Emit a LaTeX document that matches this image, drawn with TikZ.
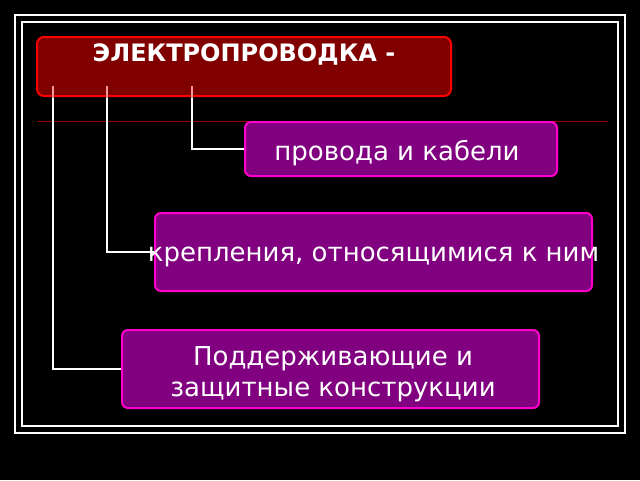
\documentclass[tikz,border=0pt]{standalone}
\usepackage{fontspec}
\setmainfont{DejaVu Sans}
\usetikzlibrary{positioning}
\definecolor{hdrfill}{HTML}{800000}
\definecolor{boxfill}{HTML}{800080}
\definecolor{boxline}{HTML}{FF00CC}
\tikzset{
  box/.style={draw=boxline, line width=2pt, fill=boxfill, rounded corners=6pt, inner sep=0pt},
  label/.style={text=white, font=\fontsize{26}{31}\selectfont, align=center, inner sep=0pt},
  link/.style={draw=white, line width=2.5pt}
}
\begin{document}
\begin{tikzpicture}[x=1pt,y=-1pt]
  \fill[black] (0,0) rectangle (640,480);
  \useasboundingbox (0,0) rectangle (640,480);
  \draw[white, line width=2.5pt] (15,15) rectangle (625,433);
  \draw[white, line width=1.2pt] (22,22) rectangle (618,426);
  \draw[hdrfill!80!red, line width=0.8pt] (37,121) -- (608,121);
  % header
  \node[draw=red, line width=2pt, fill=hdrfill, rounded corners=7pt, minimum width=414pt, minimum height=59pt, inner sep=0pt] (hdr) at (244,66.5) {};
  \node[text=white, font=\fontsize{24}{29}\selectfont\bfseries] at (244,54) {ЭЛЕКТРОПРОВОДКА -};
  % boxes
  \node[box, minimum width=312pt, minimum height=54pt] (wires) at (401,149) {};
  \node[box, minimum width=437pt, minimum height=78pt] (mounts) at (373.5,252) {};
  \node[box, minimum width=417pt, minimum height=78pt] (supports) at (330.5,369) {};
  \node[label] at (397,153) {провода и кабели};
  \node[label] at (373.5,257) {крепления, относящимися к ним};
  \node[label] at (333,374) {Поддерживающие и\\ защитные конструкции};
  % connectors
  \coordinate (c1) at (192,86);
  \coordinate (c2) at (107,86);
  \coordinate (c3) at (53,86);
  \draw[link] (c1) |- (wires.west);
  \draw[link] (c2) |- (mounts.west);
  \draw[link] (c3) |- (supports.west);
  \foreach \x in {192,107,53}
    \draw[line width=2.5pt, red!40!white] (\x,86) -- (\x,98);
\end{tikzpicture}
\end{document}
